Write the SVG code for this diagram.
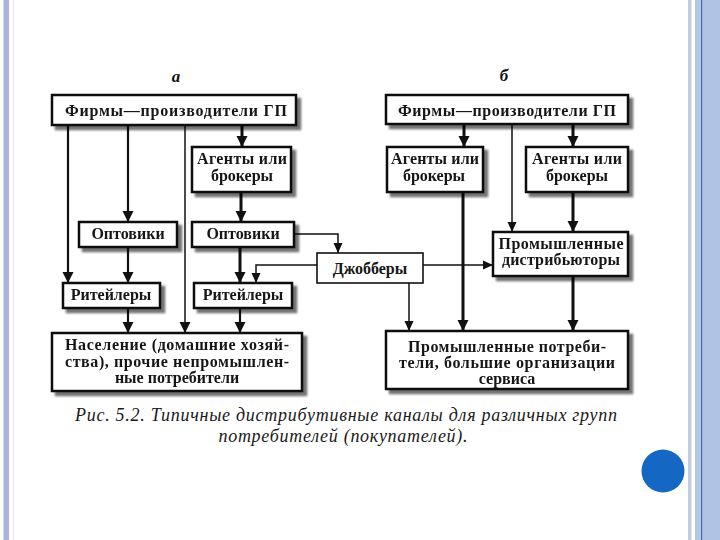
<svg xmlns="http://www.w3.org/2000/svg" width="720" height="540" viewBox="0 0 720 540">
<defs>
<style>
.box{fill:#fff;stroke:#111;stroke-width:2.5}
.jb{fill:#fff;stroke:#111;stroke-width:1.6}
.t{font-family:"Liberation Serif","DejaVu Serif",serif;font-weight:bold;font-size:16px;fill:#161616;text-anchor:middle}
.cap{font-family:"Liberation Serif","DejaVu Serif",serif;font-style:italic;font-size:18px;fill:#1a1a1a;text-anchor:middle}
.lbl{font-family:"Liberation Serif","DejaVu Serif",serif;font-style:italic;font-weight:bold;font-size:17px;fill:#111;text-anchor:middle}
.c{fill:none;stroke:#111;stroke-width:2.2}
.ck{fill:none;stroke:#111;stroke-width:3}
.cn{fill:none;stroke:#111;stroke-width:1.5}
</style>
<filter id="sh" x="-10%" y="-10%" width="125%" height="135%">
<feGaussianBlur in="SourceAlpha" stdDeviation="1.2" result="b"/>
<feOffset in="b" dx="3.5" dy="3.5" result="o"/>
<feComponentTransfer in="o" result="s"><feFuncA type="linear" slope="0.55"/></feComponentTransfer>
<feMerge><feMergeNode in="s"/><feMergeNode in="SourceGraphic"/></feMerge>
</filter>
<marker id="ah" markerUnits="userSpaceOnUse" markerWidth="12" markerHeight="12" viewBox="0 0 12 12" refX="11" refY="6" orient="auto">
<path d="M0,0.5 L11,6 L0,11.5 Z" fill="#111"/>
</marker>
<marker id="as" markerUnits="userSpaceOnUse" markerWidth="10" markerHeight="10" viewBox="0 0 10 10" refX="10" refY="5" orient="auto">
<path d="M0,0.5 L10,5 L0,9.5 Z" fill="#111"/>
</marker>
</defs>
<rect width="720" height="540" fill="#fff"/>
<!-- page borders -->
<rect x="3.5" y="0" width="5.5" height="540" fill="#aab5df"/>
<rect x="13" y="0" width="1.2" height="540" fill="#f3e6f7"/>
<rect x="688" y="0" width="3.5" height="540" fill="#c3cde0"/>
<rect x="695" y="0" width="6" height="540" fill="#b7c7e3"/>
<rect x="701" y="0" width="1.6" height="540" fill="#3d6db3"/>
<rect x="702.6" y="0" width="17.4" height="540" fill="#b0c3e4"/>
<circle cx="663" cy="471" r="21.5" fill="#1467c2"/>

<text class="lbl" x="176" y="82">а</text>
<text class="lbl" x="504" y="81">б</text>

<g id="connectors">
<path class="c" d="M68,126 V283" marker-end="url(#ah)"/>
<path class="c" d="M128,126 V222" marker-end="url(#ah)"/>
<path class="cn" d="M185,126 V333" marker-end="url(#ah)"/>
<path class="ck" d="M242,126 V147" marker-end="url(#ah)"/>
<path class="ck" d="M241,193 V222" marker-end="url(#ah)"/>
<path class="c" d="M128,248 V283" marker-end="url(#ah)"/>
<path class="ck" d="M240,248 V283" marker-end="url(#ah)"/>
<path class="c" d="M128,309 V333" marker-end="url(#ah)"/>
<path class="c" d="M240,309 V333" marker-end="url(#ah)"/>
<path class="cn" d="M295,234 H338 V253" marker-end="url(#as)"/>
<path class="cn" d="M317,265 H256 V283" marker-end="url(#as)"/>
<path class="cn" d="M423,265 H493" marker-end="url(#as)"/>
<path class="cn" d="M409,283 V331" marker-end="url(#as)"/>
<path class="ck" d="M464,125 V147" marker-end="url(#ah)"/>
<path class="cn" d="M512,125 V232" marker-end="url(#as)"/>
<path class="ck" d="M573,125 V147" marker-end="url(#ah)"/>
<path class="ck" d="M463,193 V331" marker-end="url(#ah)"/>
<path class="ck" d="M573,193 V232" marker-end="url(#ah)"/>
<path class="ck" d="M573,277 V331" marker-end="url(#ah)"/>
</g>

<g id="a-firms" filter="url(#sh)">
<rect class="box" x="52" y="95" width="244" height="30"/>
<text class="t" x="176" y="116" textLength="222" lengthAdjust="spacing">Фирмы—производители ГП</text>
</g>
<g id="a-agents" filter="url(#sh)">
<rect class="box" x="192" y="147" width="99" height="45"/>
<text class="t" x="242" y="164" textLength="90" lengthAdjust="spacing">Агенты или</text>
<text class="t" x="242" y="181">брокеры</text>
</g>
<g id="a-wholesale1" filter="url(#sh)">
<rect class="box" x="79" y="222" width="98" height="25"/>
<text class="t" x="128" y="239">Оптовики</text>
</g>
<g id="a-wholesale2" filter="url(#sh)">
<rect class="box" x="192" y="222" width="102" height="25"/>
<text class="t" x="243" y="239">Оптовики</text>
</g>
<g id="a-retail1" filter="url(#sh)">
<rect class="box" x="63" y="283" width="97" height="25"/>
<text class="t" x="111" y="300">Ритейлеры</text>
</g>
<g id="a-retail2" filter="url(#sh)">
<rect class="box" x="194" y="283" width="98" height="25"/>
<text class="t" x="243" y="300">Ритейлеры</text>
</g>
<g id="a-consumers" filter="url(#sh)">
<rect class="box" x="52" y="333" width="250" height="58"/>
<text class="t" x="177" y="350" textLength="224" lengthAdjust="spacing">Население (домашние хозяй-</text>
<text class="t" x="177" y="367" textLength="224" lengthAdjust="spacing">ства), прочие непромышлен-</text>
<text class="t" x="177" y="383">ные потребители</text>
</g>
<g id="jobbers">
<rect class="jb" x="317" y="253" width="106" height="30"/>
<text class="t" x="370" y="274">Джобберы</text>
</g>
<g id="b-firms" filter="url(#sh)">
<rect class="box" x="386" y="95" width="242" height="29"/>
<text class="t" x="507" y="116" textLength="218" lengthAdjust="spacing">Фирмы—производители ГП</text>
</g>
<g id="b-agents1" filter="url(#sh)">
<rect class="box" x="387" y="147" width="96" height="45"/>
<text class="t" x="435" y="164" textLength="88" lengthAdjust="spacing">Агенты или</text>
<text class="t" x="434" y="181">брокеры</text>
</g>
<g id="b-agents2" filter="url(#sh)">
<rect class="box" x="526" y="147" width="102" height="45"/>
<text class="t" x="577" y="164" textLength="90" lengthAdjust="spacing">Агенты или</text>
<text class="t" x="577" y="181">брокеры</text>
</g>
<g id="b-distributors" filter="url(#sh)">
<rect class="box" x="493" y="232" width="135" height="44"/>
<text class="t" x="561" y="249" textLength="125" lengthAdjust="spacing">Промышленные</text>
<text class="t" x="561" y="265" textLength="118" lengthAdjust="spacing">дистрибьюторы</text>
</g>
<g id="b-consumers" filter="url(#sh)">
<rect class="box" x="386" y="331" width="242" height="58"/>
<text class="t" x="507" y="352" textLength="198" lengthAdjust="spacing">Промышленные потреби-</text>
<text class="t" x="507" y="368" textLength="216" lengthAdjust="spacing">тели, большие организации</text>
<text class="t" x="507" y="384">сервиса</text>
</g>

<text class="cap" x="346" y="421" textLength="542" lengthAdjust="spacing">Рис. 5.2. Типичные дистрибутивные каналы для различных групп</text>
<text class="cap" x="343" y="442" textLength="249" lengthAdjust="spacing">потребителей (покупателей).</text>
</svg>
